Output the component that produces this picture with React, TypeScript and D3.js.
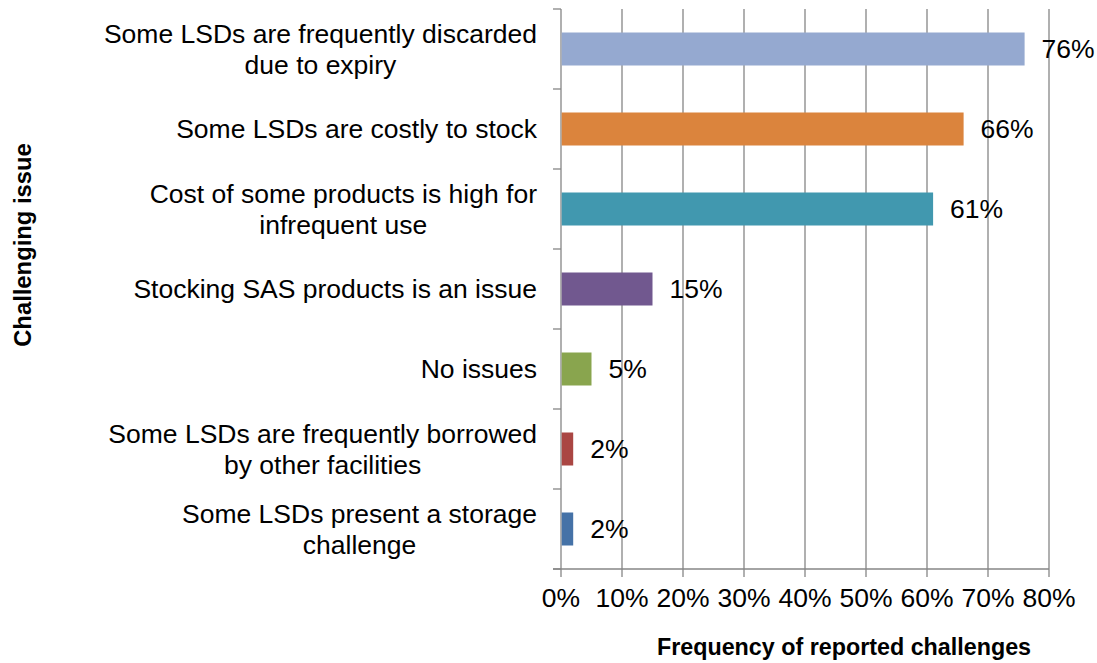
import React, { useRef, useEffect } from 'react';
import * as d3 from 'd3';

const categories = [
  ['Some LSDs are frequently discarded', 'due to expiry'],
  ['Some LSDs are costly to stock'],
  ['Cost of some products is high for', 'infrequent use'],
  ['Stocking SAS products is an issue'],
  ['No issues'],
  ['Some LSDs are frequently borrowed', 'by other facilities'],
  ['Some LSDs present a storage', 'challenge'],
];
const values = [76, 66, 61, 15, 5, 2, 2];
const barColors = ['#95A9D0', '#DB843D', '#4198AF', '#71588F', '#89A54E', '#AA4643', '#4572A7'];
const xTicks = [0, 10, 20, 30, 40, 50, 60, 70, 80];

const FONT = '"Liberation Sans", Arial, sans-serif';
const FS = 26.5;

const App = () => {
  const svgRef = useRef<SVGSVGElement>(null);

  useEffect(() => {
    const svg = d3.select(svgRef.current);
    svg.selectAll('*').remove();

    const left = 561, right = 1049, top = 9, bottom = 569;
    const x = d3.scaleLinear().domain([0, 80]).range([left, right]);
    const y = d3.scaleBand<number>()
      .domain(d3.range(categories.length))
      .range([top, bottom])
      .paddingInner(0.5875)
      .paddingOuter(0.29375);
    const step = y.step();

    // gridlines
    svg.append('g')
      .selectAll('line')
      .data(xTicks.slice(1))
      .enter().append('line')
      .attr('x1', d => x(d)).attr('x2', d => x(d))
      .attr('y1', top).attr('y2', bottom + 8)
      .attr('stroke', '#868686').attr('stroke-width', 1.3);

    // axis lines and ticks
    const ax = svg.append('g').attr('stroke', '#868686').attr('stroke-width', 1.3);
    ax.append('line').attr('x1', left).attr('x2', left).attr('y1', top).attr('y2', bottom + 8);
    ax.append('line').attr('x1', left - 8).attr('x2', right).attr('y1', bottom).attr('y2', bottom);
    ax.selectAll('.yt')
      .data(d3.range(categories.length + 1))
      .enter().append('line')
      .attr('x1', left - 8).attr('x2', left)
      .attr('y1', d => top + d * step).attr('y2', d => top + d * step);

    // bars
    svg.append('g')
      .selectAll('rect')
      .data(values)
      .enter().append('rect')
      .attr('x', x(0) + 0.7)
      .attr('y', (d, i) => y(i)!)
      .attr('width', d => x(d) - x(0) - 0.7)
      .attr('height', y.bandwidth())
      .attr('fill', (d, i) => barColors[i]);

    // value labels
    svg.append('g')
      .selectAll('text')
      .data(values)
      .enter().append('text')
      .attr('x', d => x(d) + 17)
      .attr('y', (d, i) => y(i)! + y.bandwidth() / 2 + 9)
      .attr('font-family', FONT)
      .attr('font-size', FS)
      .attr('fill', '#000')
      .text(d => `${d}%`);

    // x tick labels
    svg.append('g')
      .selectAll('text')
      .data(xTicks)
      .enter().append('text')
      .attr('x', d => x(d))
      .attr('y', 607)
      .attr('text-anchor', 'middle')
      .attr('font-family', FONT)
      .attr('font-size', FS)
      .text(d => `${d}%`);

    // category labels (wrapped lines centred on each other, right edge at 537)
    const catG = svg.append('g');
    categories.forEach((lines, i) => {
      const cy = y(i)! + y.bandwidth() / 2;
      const g = catG.append('g');
      const texts = lines.map((line, j) =>
        g.append('text')
          .attr('y', cy + 9 + (j - (lines.length - 1) / 2) * 31)
          .attr('font-family', FONT)
          .attr('font-size', FS)
          .attr('text-anchor', 'middle')
          .text(line)
      );
      const maxW = d3.max(texts, t => (t.node() as SVGTextElement).getComputedTextLength()) || 0;
      texts.forEach(t => t.attr('x', 537 - maxW / 2));
    });

    // axis titles
    svg.append('text')
      .attr('x', 844)
      .attr('y', 655)
      .attr('text-anchor', 'middle')
      .attr('font-family', FONT)
      .attr('font-size', 23.3)
      .attr('font-weight', 'bold')
      .text('Frequency of reported challenges');

    svg.append('text')
      .attr('transform', 'translate(31,245) rotate(-90)')
      .attr('text-anchor', 'middle')
      .attr('font-family', FONT)
      .attr('font-size', 23.8)
      .attr('font-weight', 'bold')
      .text('Challenging issue');
  }, []);

  return (
    <svg
      ref={svgRef}
      width={1097}
      height={663}
      style={{ position: 'absolute', left: 0, top: 0, background: '#fff' }}
    />
  );
};

export default App;
